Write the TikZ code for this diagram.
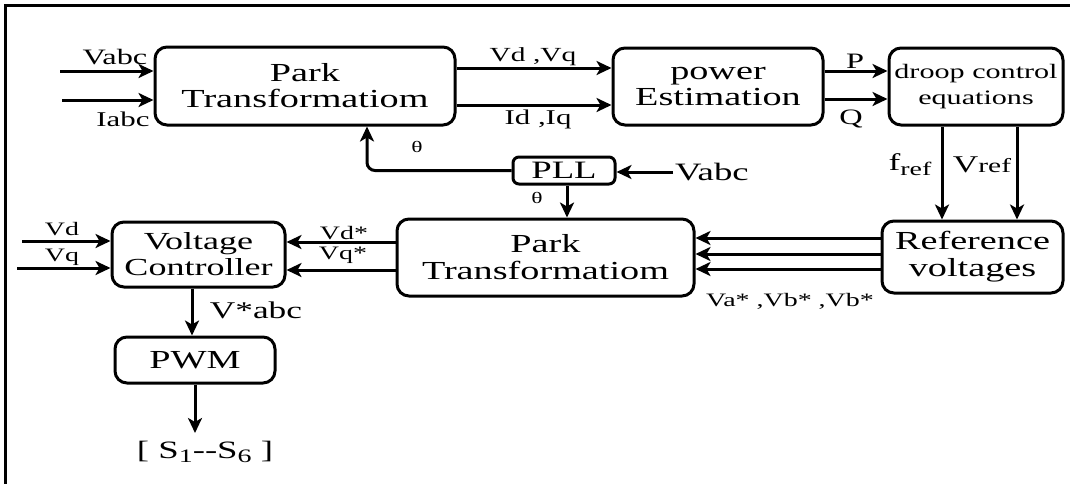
\documentclass[tikz,border=0pt]{standalone}
\usepackage{fontspec}
\setmainfont{Liberation Serif}
\usetikzlibrary{arrows.meta}
\newcommand{\sx}[1]{\scalebox{1.47}[1]{#1}}
\newcommand{\fsz}[1]{\fontsize{#1}{#1}\selectfont}
\begin{document}
\begin{tikzpicture}[x=1pt,y=-1pt,
  blk/.style={draw,line width=3pt,rounded corners=12pt,inner sep=0pt,align=center},
  arr/.style={line width=3pt,-{Stealth[length=15pt,width=14pt,inset=4pt]}},
  lab/.style={inner sep=0pt}]
\useasboundingbox (0,0) rectangle (1070,483);
\draw[line width=3pt] (5,495) -- (5,5) -- (1080,5);

% blocks
\node[blk,minimum width=300pt,minimum height=78pt,font=\fontsize{26}{26}\selectfont] (park1) at (305,86) {\sx{Park}\\\sx{Transformatiom}};
\node[blk,minimum width=210pt,minimum height=77pt,font=\fontsize{26}{26}\selectfont] (power) at (718,86.5) {\sx{power}\\\sx{Estimation}};
\node[blk,minimum width=174pt,minimum height=77pt,font=\fontsize{20.5}{26}\selectfont] (droop) at (976,86.5) {\sx{droop control}\\\sx{equations}};
\node[blk,rounded corners=6pt,minimum width=102pt,minimum height=27pt,font=\fsz{25}] (pll) at (564,170.5) {\sx{PLL}};
\node[blk,minimum width=297pt,minimum height=77pt,font=\fontsize{26}{27}\selectfont] (park2) at (545.5,257.5) {\sx{Park}\\\sx{Transformatiom}};
\node[blk,minimum width=181pt,minimum height=72pt,font=\fontsize{26}{27}\selectfont] (ref) at (972.5,257) {\sx{Reference}\\\sx{voltages}};
\node[blk,minimum width=173pt,minimum height=65pt,font=\fontsize{24.5}{26}\selectfont] (vc) at (198.5,254.5) {\sx{Voltage}\\\sx{Controller}};
\node[blk,minimum width=160pt,minimum height=46pt,font=\fsz{26}] (pwm) at (195,360) {\sx{PWM}};

% free ends
\coordinate (vin) at (60,71);
\coordinate (iin) at (62,100);
\coordinate (vpll) at (673,172);
\coordinate (vdin) at (22,241);
\coordinate (vqin) at (17,268);
\coordinate (sout) at (195,433);
\coordinate (bend) at (367,170.5);

% top row
\draw[arr] (vin) -- (vin -| park1.west);
\draw[arr] (iin) -- (iin -| park1.west);
\draw[arr] (park1.east |- 0,68) -- (power.west |- 0,68);
\draw[arr] (park1.east |- 0,105) -- (power.west |- 0,105);
\draw[arr] (power.east |- 0,71) -- (droop.west |- 0,71);
\draw[arr] (power.east |- 0,99) -- (droop.west |- 0,99);

% PLL
\draw[arr] (vpll) -- (vpll -| pll.east);
\draw[arr,rounded corners=8pt] (pll.west) -- (bend) -- (bend |- park1.south);
\draw[arr] (pll.south -| 567,0) -- (park2.north -| 567,0);

% droop to reference
\draw[arr] (droop.south -| 942,0) -- (ref.north -| 942,0);
\draw[arr] (droop.south -| 1017,0) -- (ref.north -| 1017,0);

% reference to park2
\draw[arr] (ref.west |- 0,238) -- (park2.east |- 0,238);
\draw[arr] (ref.west |- 0,254) -- (park2.east |- 0,254);
\draw[arr] (ref.west |- 0,269) -- (park2.east |- 0,269);

% park2 to voltage controller
\draw[arr] (park2.west |- 0,242) -- (vc.east |- 0,242);
\draw[arr] (park2.west |- 0,270) -- (vc.east |- 0,270);

% inputs to vc
\draw[arr] (vdin) -- (vdin -| vc.west);
\draw[arr] (vqin) -- (vqin -| vc.west);

% vc to pwm to switches
\draw[arr] (vc.south -| 192,0) -- (pwm.north -| 192,0);
\draw[arr] (pwm.south -| sout) -- (sout);

% labels
\node[lab,font=\fsz{22}] (lvabc) at (115,57) {\sx{Vabc}};
\node[lab,font=\fsz{21}] (liabc) at (123,119) {\sx{Iabc}};
\node[lab,font=\fsz{20}] (lvdq) at (533,57) {\sx{Vd ,Vq}};
\node[lab,font=\fsz{21}] (lidq) at (538,119) {\sx{Id ,Iq}};
\node[lab,font=\fsz{22}] (lp) at (855,61) {\sx{P}};
\node[lab,font=\fsz{22}] (lq) at (851,119) {\sx{Q}};
\node[lab,font=\fsz{25},anchor=west] (lvabc2) at (675,172) {\sx{Vabc}};
\node[lab,font=\fsz{16}] (lth1) at (417,147) {\sx{θ}};
\node[lab,font=\fsz{16}] (lth2) at (537,198) {\sx{θ}};
\node[lab,font=\fsz{24}] (lfref) at (910,165) {\sx{f\raisebox{-5pt}{\fsz{19}ref}}};
\node[lab,font=\fsz{24}] (lvref) at (982,165) {\sx{V{\fsz{20}ref}}};
\node[lab,font=\fsz{19}] (lvabs) at (790,301) {\sx{Va* ,Vb* ,Vb*}};
\node[lab,font=\fsz{19}] (lvds) at (344,233) {\sx{Vd*}};
\node[lab,font=\fsz{19}] (lvqs) at (343,255) {\sx{Vq*}};
\node[lab,font=\fsz{19}] (lvd) at (62,229) {\sx{Vd}};
\node[lab,font=\fsz{19}] (lvq) at (62,257) {\sx{Vq}};
\node[lab,font=\fsz{24}] (lvabc3) at (256,310) {\sx{V*abc}};
\node[lab,font=\fsz{25}] (ls) at (205,452) {\sx{[ S\raisebox{-4pt}{\fsz{19}1}-{}-S\raisebox{-4pt}{\fsz{19}6} ]}};
\end{tikzpicture}
\end{document}
